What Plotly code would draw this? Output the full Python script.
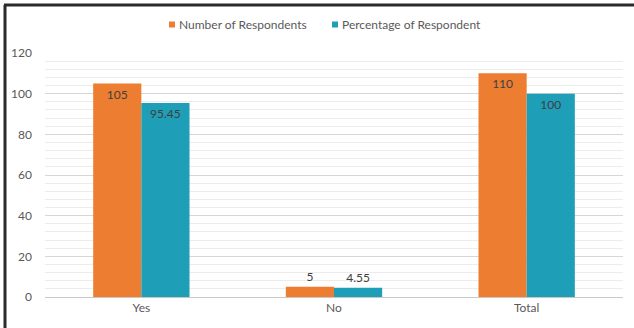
import plotly.graph_objects as go

# Survey responses
categories = ["Yes", "No", "Total"]
respondents = [105, 5, 110]
percentages = [95.45, 4.55, 100]
respondents_text = ["105", "5", "110"]
percentages_text = ["95.45", "4.55", "100"]
text_positions = ["inside", "outside", "inside"]
series_names = ["Number of Respondents", "Percentage of Respondent"]

ORANGE = "#ED7D31"
TEAL = "#1E9EB7"
FONT = "Lato, Open Sans, sans-serif"

W, H = 634, 328
ML, MR, MT, MB = 45, 11, 53, 31
pw, ph = W - ML - MR, H - MT - MB


def px_to_paper_x(px):
    return (px - ML) / pw


def px_to_paper_y(py):
    return 1 + (MT - py) / ph


fig = go.Figure()
for name, vals, labels, color in [
    (series_names[0], respondents, respondents_text, ORANGE),
    (series_names[1], percentages, percentages_text, TEAL),
]:
    fig.add_trace(go.Bar(
        name=name, x=categories, y=vals,
        marker=dict(color=color, line=dict(width=0)),
        text=labels, textposition=text_positions,
        insidetextanchor="end", constraintext="none", cliponaxis=False,
        textfont=dict(color="#404040", size=12, family=FONT),
        showlegend=False,
    ))

# Compact legend: small square swatch followed by the series name
legend_items = [(series_names[0], ORANGE, 169), (series_names[1], TEAL, 332)]
for name, color, x_px in legend_items:
    fig.add_shape(type="rect", xref="paper", yref="paper",
                  x0=px_to_paper_x(x_px), x1=px_to_paper_x(x_px + 6),
                  y0=px_to_paper_y(21.5), y1=px_to_paper_y(27.5),
                  fillcolor=color, line=dict(width=0))
    fig.add_annotation(xref="paper", yref="paper",
                       x=px_to_paper_x(x_px + 8), y=px_to_paper_y(24.5),
                       xanchor="left", yanchor="middle", showarrow=False,
                       text=name, font=dict(size=12, color="#595959",
                                            family=FONT))

# Outer frame: left and top edges
fig.add_shape(type="line", xref="paper", yref="paper",
              x0=px_to_paper_x(5), x1=px_to_paper_x(5),
              y0=px_to_paper_y(5), y1=px_to_paper_y(H + 5),
              line=dict(color="#2b2b2b", width=3))
fig.add_shape(type="line", xref="paper", yref="paper",
              x0=px_to_paper_x(4), x1=px_to_paper_x(W + 5),
              y0=px_to_paper_y(5), y1=px_to_paper_y(5),
              line=dict(color="#2b2b2b", width=3))

fig.update_layout(
    width=W, height=H,
    margin=dict(l=ML, r=MR, t=MT, b=MB, pad=0),
    paper_bgcolor="white", plot_bgcolor="white",
    barmode="group", bargap=0.5, bargroupgap=0,
    font=dict(family=FONT, size=12, color="#595959"),
    xaxis=dict(showgrid=False, showline=True, linecolor="#c8c8c8",
               linewidth=1, ticks="", tickfont=dict(size=12, color="#595959")),
    yaxis=dict(range=[0, 120], dtick=20, showline=False, zeroline=False,
               gridcolor="#d6d6d6", gridwidth=1, ticks="",
               tickfont=dict(size=12, color="#595959"), ticklabelstandoff=12,
               minor=dict(dtick=4, showgrid=True, gridcolor="#ececec",
                          gridwidth=1)),
)

fig.write_html("out.html")
